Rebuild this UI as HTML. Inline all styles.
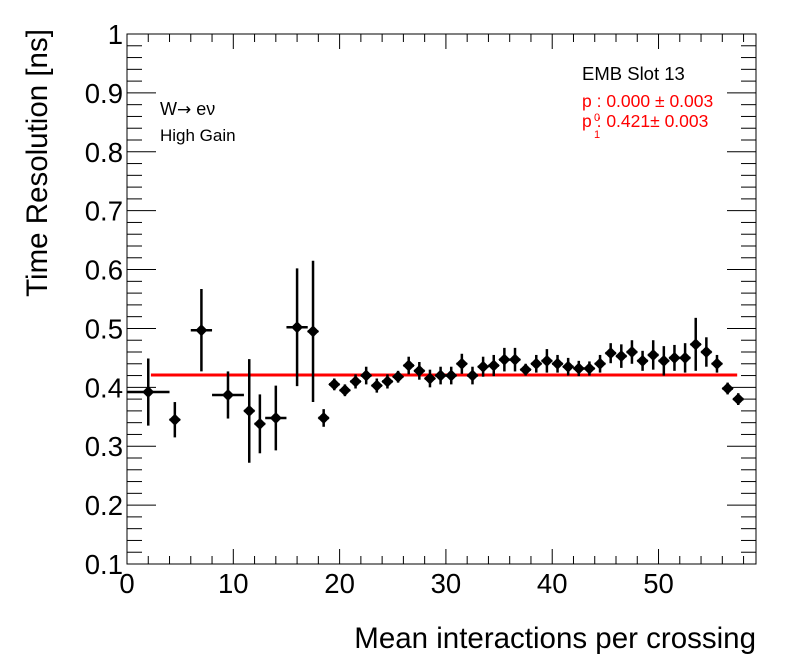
<!DOCTYPE html>
<html><head><meta charset="utf-8"><style>
body{margin:0;background:#fff;}
svg{display:block;font-family:"Liberation Sans",sans-serif;}
</style></head><body>
<svg id="chart" width="796" height="672" viewBox="0 0 796 672" xmlns="http://www.w3.org/2000/svg">
<rect x="0" y="0" width="796" height="672" fill="#fff"/>
<g id="axes"></g>
<g id="fit"></g>
<g id="points"></g>
<text x="0" y="0" transform="translate(47,163) rotate(-90)" text-anchor="middle" font-size="29.5">Time Resolution [ns]</text>
<text x="756" y="648" text-anchor="end" font-size="29.5">Mean interactions per crossing</text>
<text x="160" y="115" font-size="18">W<tspan font-family="DejaVu Sans" font-size="17">→</tspan> eν</text>
<text x="160" y="141" font-size="17">High Gain</text>
<text x="582" y="80" font-size="18.5">EMB Slot 13</text>
<text x="582" y="107" font-size="17.5" fill="#f00">p  : 0.000 ± 0.003</text>
<text x="582" y="127" font-size="17.5" fill="#f00">p : 0.421± 0.003</text>
<text x="594" y="121" font-size="11" fill="#f00">0</text>
<text x="594" y="138" font-size="11" fill="#f00">1</text>
</svg>
<script>
const xVals=[2,4.5,7,9.5,11.5,12.5,14,16,17.5,18.5,19.5,20.5,21.5,22.5,23.5,24.5,25.5,26.5,27.5,28.5,29.5,30.5,31.5,32.5,33.5,34.5,35.5,36.5,37.5,38.5,39.5,40.5,41.5,42.5,43.5,44.5,45.5,46.5,47.5,48.5,49.5,50.5,51.5,52.5,53.5,54.5,55.5,56.5,57.5];
const yVals=[0.392,0.345,0.497,0.387,0.36,0.338,0.348,0.502,0.495,0.348,0.405,0.395,0.41,0.42,0.403,0.41,0.418,0.437,0.428,0.415,0.42,0.42,0.44,0.42,0.435,0.437,0.447,0.447,0.43,0.44,0.445,0.44,0.435,0.432,0.432,0.44,0.458,0.453,0.46,0.445,0.455,0.445,0.45,0.45,0.473,0.46,0.44,0.398,0.38];
const yErrs=[0.057,0.03,0.07,0.04,0.088,0.05,0.055,0.1,0.12,0.015,0.01,0.01,0.012,0.015,0.012,0.012,0.01,0.015,0.015,0.015,0.015,0.015,0.017,0.015,0.017,0.018,0.02,0.02,0.01,0.015,0.02,0.015,0.015,0.013,0.012,0.015,0.017,0.02,0.02,0.017,0.025,0.025,0.022,0.025,0.045,0.025,0.015,0.01,0.01];
const xErrs=[2,0.5,1,1.5,0.5,0.5,1,1,0.5,0.5,0.5,0.5,0.5,0.5,0.5,0.5,0.5,0.5,0.5,0.5,0.5,0.5,0.5,0.5,0.5,0.5,0.5,0.5,0.5,0.5,0.5,0.5,0.5,0.5,0.5,0.5,0.5,0.5,0.5,0.5,0.5,0.5,0.5,0.5,0.5,0.5,0.5,0.5,0.5];
const fitP0=0.421;
const fitRange=[2.25,57.4];
const xTicks=[0,10,20,30,40,50];
const yTicks=[0.1,0.2,0.3,0.4,0.5,0.6,0.7,0.8,0.9,1];
const NS='http://www.w3.org/2000/svg';
const L=127,R=756,T=34,B=564,xMin=0,xMax=59.17,yMin=0.1,yMax=1;
const sx=v=>L+(v-xMin)/(xMax-xMin)*(R-L);
const sy=v=>B-(v-yMin)/(yMax-yMin)*(B-T);
function mk(tag,attrs,parent){const e=document.createElementNS(NS,tag);for(const k in attrs)e.setAttribute(k,attrs[k]);parent.appendChild(e);return e;}
const ax=document.getElementById('axes');
const frame=mk('rect',{x:L,y:T,width:R-L,height:B-T,fill:'none',stroke:'#000','stroke-width':1},ax);


for(let v=0;v<=xMax+1e-6;v+=2){
  const major=Math.abs(v%10)<1e-6;const len=major?15:8;const x=sx(v);
  const t1=mk('line',{x1:x,y1:B,x2:x,y2:B-len,stroke:'#000'},ax);
  
  
  mk('line',{x1:x,y1:T,x2:x,y2:T+len,stroke:'#000'},ax);
}
xTicks.forEach(v=>{const t=mk('text',{x:sx(v),y:B+29,'text-anchor':'middle','font-size':27.5},ax);t.textContent=v;

});
for(let i=0;i<=45;i++){
  const v=0.1+i*0.02;const major=i%5===0;const len=major?29:15;const y=sy(v);
  const t1=mk('line',{x1:L,y1:y,x2:L+len,y2:y,stroke:'#000'},ax);
  
  
  mk('line',{x1:R,y1:y,x2:R-len,y2:y,stroke:'#000'},ax);
}
yTicks.forEach(v=>{const t=mk('text',{x:L-4,y:sy(v)+10,'text-anchor':'end','font-size':27.5},ax);t.textContent=(v===1?'1':v.toFixed(1));

});
const fg=document.getElementById('fit');
const fl=mk('line',{x1:sx(fitRange[0]),y1:sy(fitP0),x2:sx(fitRange[1]),y2:sy(fitP0),stroke:'#f00','stroke-width':3},fg);


const pg=document.getElementById('points');
xVals.forEach((xv,i)=>{
  const g=mk('g',{},pg);
  
  
  const cx=sx(xv),cy=sy(yVals[i]);
  mk('line',{x1:cx,y1:sy(yVals[i]-yErrs[i]),x2:cx,y2:sy(yVals[i]+yErrs[i]),stroke:'#000','stroke-width':2.5},g);
  mk('line',{x1:sx(xv-xErrs[i]),y1:cy,x2:sx(xv+xErrs[i]),y2:cy,stroke:'#000','stroke-width':2.5},g);
  mk('polygon',{points:`${cx},${cy-6} ${cx+6},${cy} ${cx},${cy+6} ${cx-6},${cy}`,fill:'#000'},g);
});
</script>
</body></html>
